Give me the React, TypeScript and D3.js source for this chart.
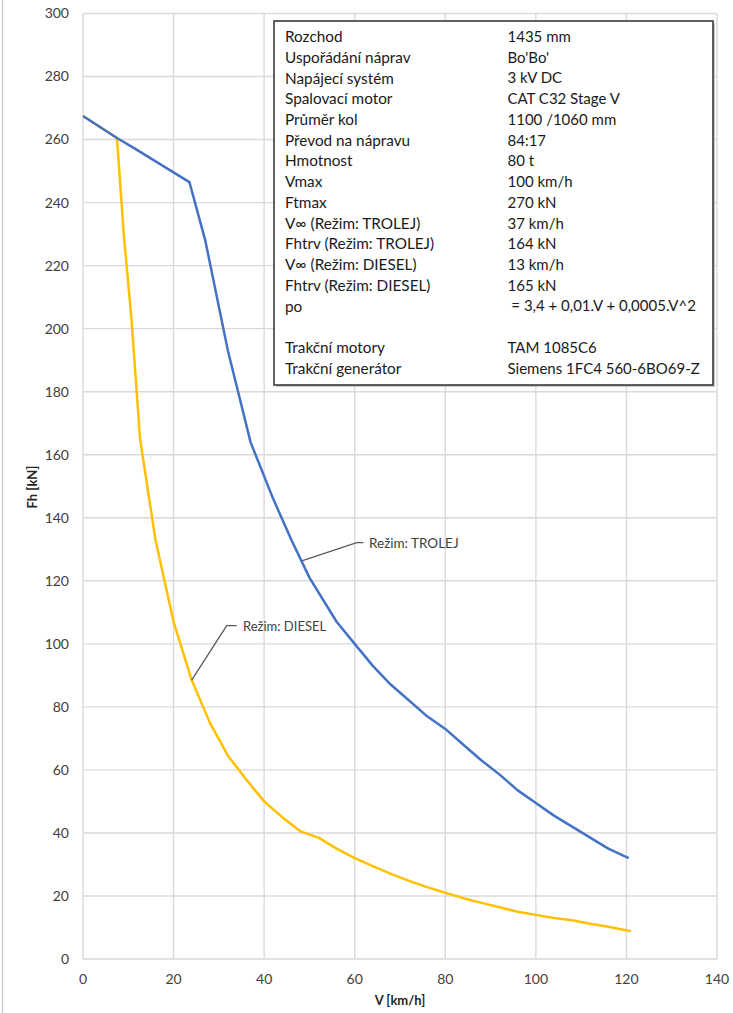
import React from "react";
import * as d3 from "d3";

const speedTrolej = [0, 7.5, 11, 23.5, 27, 32, 37, 42, 46, 50, 56, 60, 64, 68, 72, 76, 80, 84, 88, 92, 96, 100, 104, 108, 112, 116, 120.5];
const forceTrolej = [267.5, 260.5, 257.5, 246.5, 228, 193, 164, 146, 133, 121, 107, 100, 93, 87, 82, 77, 73, 68, 63, 58.5, 53.5, 49.5, 45.5, 42, 38.5, 35, 32];

const speedDiesel = [0, 7.5, 9, 10.7, 12.6, 16, 20, 24, 28, 32, 36, 40, 44, 48, 52, 56, 60, 64, 68, 72, 76, 80, 84, 88, 92, 96, 100, 104, 108, 112, 116, 121];
const forceDiesel = [267.5, 260.5, 230, 203, 165, 133, 107, 88.5, 75, 64.5, 57, 50, 45, 40.5, 38.5, 35, 32, 29.5, 27, 24.8, 22.8, 21, 19.3, 17.8, 16.4, 15, 14, 13, 12.3, 11.2, 10.2, 8.8];

const xTicks = [0, 20, 40, 60, 80, 100, 120, 140];
const yTicks = [0, 20, 40, 60, 80, 100, 120, 140, 160, 180, 200, 220, 240, 260, 280, 300];

const infoLabels = [
  "Rozchod",
  "Uspořádání náprav",
  "Napájecí systém",
  "Spalovací motor",
  "Průměr kol",
  "Převod na nápravu",
  "Hmotnost",
  "Vmax",
  "Ftmax",
  "V∞ (Režim: TROLEJ)",
  "Fhtrv (Režim: TROLEJ)",
  "V∞ (Režim: DIESEL)",
  "Fhtrv (Režim: DIESEL)",
  "po",
  "",
  "Trakční motory",
  "Trakční generátor",
];
const infoValues = [
  "1435 mm",
  "Bo'Bo'",
  "3 kV DC",
  "CAT C32 Stage V",
  "1100 /1060 mm",
  "84:17",
  "80 t",
  "100 km/h",
  "270 kN",
  "37 km/h",
  "164 kN",
  "13 km/h",
  "165 kN",
  " = 3,4 + 0,01.V + 0,0005.V^2",
  "",
  "TAM 1085C6",
  "Siemens 1FC4 560-6BO69-Z",
];

const seriesNames = ["Režim: TROLEJ", "Režim: DIESEL"];

export default function App() {
  const W = 733;
  const H = 1013;
  const x = d3.scaleLinear().domain([0, 140]).range([83, 717]);
  const y = d3.scaleLinear().domain([0, 300]).range([959, 13.5]);

  const line = d3
    .line<[number, number]>()
    .x((d) => x(d[0]))
    .y((d) => y(d[1]));

  const trolej: [number, number][] = speedTrolej.map((v, i) => [v, forceTrolej[i]]);
  const diesel: [number, number][] = speedDiesel.map((v, i) => [v, forceDiesel[i]]);

  const font = "Lato, 'Open Sans', sans-serif";
  const gridColor = "#d9d9d9";

  const tAnchor: [number, number] = [48.3, 126.3];
  const dAnchor: [number, number] = [24, 88.5];

  const rowY0 = 36.7;
  const rowStep = 20.73;

  return (
    <svg
      width={W}
      height={H}
      style={{ position: "absolute", left: 0, top: 0, background: "#fff" }}
      fontFamily={font}
    >
      <rect x={0} y={0} width={W} height={H} fill="#fff" />
      <line x1={2.5} x2={2.5} y1={0} y2={H} stroke="#c8c8c8" strokeWidth={1.3} />

      {xTicks.map((t) => (
        <line key={"gx" + t} x1={x(t)} x2={x(t)} y1={y(300)} y2={y(0)} stroke={gridColor} strokeWidth={1.4} />
      ))}
      {yTicks.map((t) => (
        <line key={"gy" + t} x1={x(0)} x2={x(140)} y1={y(t)} y2={y(t)} stroke={gridColor} strokeWidth={1.4} />
      ))}

      {yTicks.map((t) => (
        <text key={"ly" + t} x={69} y={y(t)} dy="0.35em" textAnchor="end" fontSize={14} fill="#404040">
          {t}
        </text>
      ))}
      {xTicks.map((t) => (
        <text key={"lx" + t} x={x(t)} y={979} dy="0.35em" textAnchor="middle" fontSize={14} fill="#404040">
          {t}
        </text>
      ))}

      <text x={400} y={1000} dy="0.35em" textAnchor="middle" fontSize={13} fontWeight="bold" fill="#262626">
        V [km/h]
      </text>
      <text
        transform={`translate(32,487) rotate(-90)`}
        dy="0.35em"
        textAnchor="middle"
        fontSize={13}
        fontWeight="bold"
        fill="#262626"
      >
        Fh [kN]
      </text>

      <path d={line(diesel) || ""} fill="none" stroke="#FFC000" strokeWidth={2.5} strokeLinejoin="round" />
      <path d={line(trolej) || ""} fill="none" stroke="#4472C4" strokeWidth={2.5} strokeLinejoin="round" />

      <polyline
        points={`${x(tAnchor[0])},${y(tAnchor[1])} 356.7,542.7 363.3,542.7`}
        fill="none"
        stroke="#595959"
        strokeWidth={1.3}
      />
      <text x={369} y={543.5} dy="0.35em" fontSize={13.5} fill="#404040">
        {seriesNames[0]}
      </text>
      <polyline
        points={`${x(dAnchor[0])},${y(dAnchor[1])} 226.7,625.7 236.7,625.7`}
        fill="none"
        stroke="#595959"
        strokeWidth={1.3}
      />
      <text x={243} y={626} dy="0.35em" fontSize={13} fill="#404040">
        {seriesNames[1]}
      </text>

      <rect x={276} y={23} width={439} height={364} fill="#a6a6a6" opacity={0.6} />
      <rect x={274} y={21} width={439} height={364} fill="#fff" stroke="#3a3a3a" strokeWidth={1.6} />
      {infoLabels.map((l, i) => (
        <text key={"il" + i} x={285} y={rowY0 + i * rowStep} dy="0.35em" fontSize={15.3} fill="#1a1a1a">
          {l}
        </text>
      ))}
      {infoValues.map((v, i) => (
        <text
          key={"iv" + i}
          x={507.5}
          y={rowY0 + i * rowStep}
          dy="0.35em"
          fontSize={15}
          fill="#1a1a1a"
          style={{ whiteSpace: "pre" }}
        >
          {v}
        </text>
      ))}
    </svg>
  );
}
